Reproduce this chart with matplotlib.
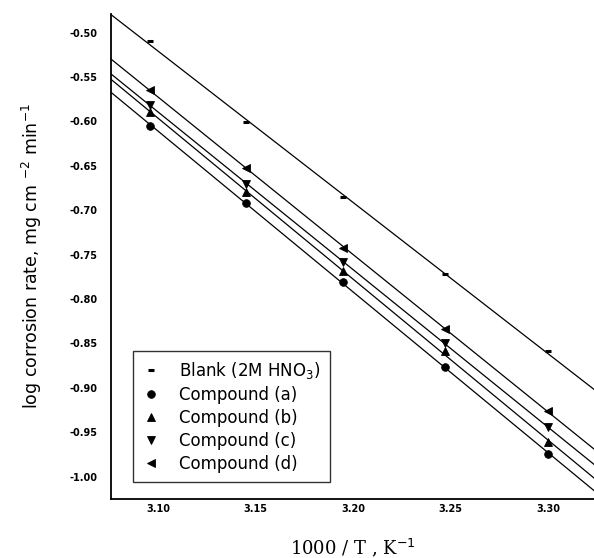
import numpy as np
import matplotlib
matplotlib.use("Agg")
import matplotlib.pyplot as plt
from matplotlib.ticker import FixedLocator, FixedFormatter

# 1000/T for T = 323, 318, 313, 308, 303 K
x = [3.096, 3.145, 3.195, 3.247, 3.300]
blank = [-0.510, -0.601, -0.685, -0.772, -0.859]
comp_a = [-0.605, -0.692, -0.781, -0.877, -0.974]
comp_b = [-0.589, -0.679, -0.769, -0.859, -0.961]
comp_c = [-0.581, -0.671, -0.758, -0.850, -0.944]
comp_d = [-0.565, -0.652, -0.742, -0.834, -0.926]

labels = ["Blank (2M HNO$_3$)", "Compound (a)", "Compound (b)",
          "Compound (c)", "Compound (d)"]
xticks = [3.10, 3.15, 3.20, 3.25, 3.30]
xticklabels = ["3.10", "3.15", "3.20", "3.25", "3.30"]
yticks = [-0.50, -0.55, -0.60, -0.65, -0.70, -0.75, -0.80, -0.85, -0.90, -0.95, -1.00]
yticklabels = ["-0.50", "-0.55", "-0.60", "-0.65", "-0.70", "-0.75",
               "-0.80", "-0.85", "-0.90", "-0.95", "-1.00"]

fig = plt.figure(figsize=(5.94, 5.58), dpi=100)
ax = fig.add_axes([0.187, 0.106, 0.813, 0.869])

xlim = (3.0759, 3.3236)
ylim = (-1.025, -0.479)
ax.set_xlim(*xlim)
ax.set_ylim(*ylim)

series = [blank, comp_a, comp_b, comp_c, comp_d]
markers = ["_", "o", "^", "v", "<"]
msizes = [5, 5.5, 6, 6, 6]
xx = np.array(xlim)
for ys, m, ms, lab in zip(series, markers, msizes, labels):
    k, b = np.polyfit(x, ys, 1)
    ax.plot(xx, k * xx + b, color="black", lw=0.9, clip_on=True)
    ax.plot(x, ys, linestyle="none", marker=m, ms=ms, mew=2.2 if m == "_" else 0.6,
            color="black", label=lab)

for s in ["top", "right"]:
    ax.spines[s].set_visible(False)
for s in ["left", "bottom"]:
    ax.spines[s].set_linewidth(1.3)

ax.xaxis.set_major_locator(FixedLocator(xticks))
ax.xaxis.set_major_formatter(FixedFormatter(xticklabels))
ax.yaxis.set_major_locator(FixedLocator(yticks))
ax.yaxis.set_major_formatter(FixedFormatter(yticklabels))
ax.tick_params(axis="both", length=0, labelsize=7)
ax.tick_params(axis="y", pad=10)
ax.tick_params(axis="x", pad=4)
for t in ax.get_xticklabels() + ax.get_yticklabels():
    t.set_fontweight("bold")

ax.set_xlabel("1000 / T , K$^{-1}$", family="DejaVu Serif", fontsize=13, labelpad=16)
ax.set_ylabel("log corrosion rate, mg cm $^{-2}$ min$^{-1}$", fontsize=12.5, labelpad=18)

leg = ax.legend(loc="lower left", bbox_to_anchor=(0.046, 0.035), borderaxespad=0,
                fontsize=12, frameon=True, fancybox=False, edgecolor="black",
                handlelength=1.0, handletextpad=1.2, labelspacing=0.3,
                borderpad=0.55)
leg.get_frame().set_linewidth(1.0)

fig.savefig("out.png", dpi=100)
